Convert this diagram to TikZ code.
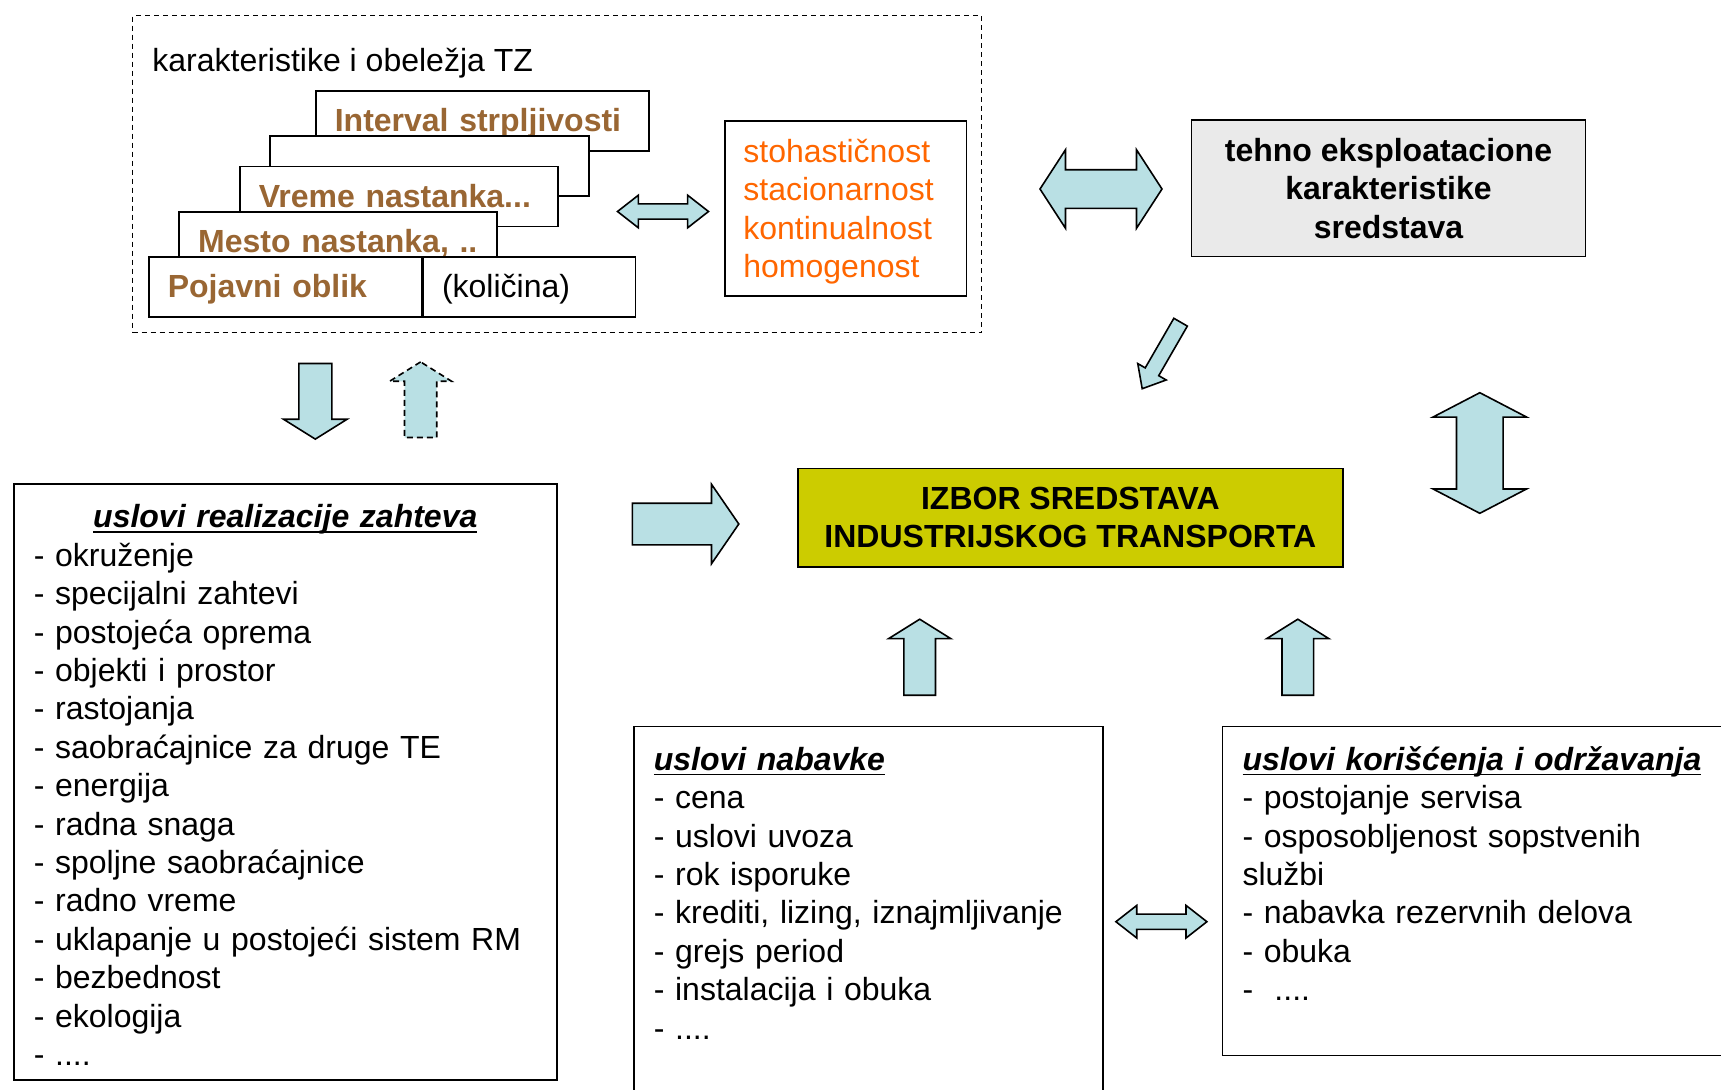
\documentclass[tikz,border=0pt]{standalone}
\usepackage{fontspec}
\setmainfont{Liberation Sans}
\usepackage{xcolor}
\usetikzlibrary{shapes.arrows}
\usetikzlibrary{positioning}

\definecolor{plavaStr}{RGB}{185,224,228}
\definecolor{sivaKut}{RGB}{234,234,234}
\definecolor{zutaKut}{RGB}{204,204,0}
\definecolor{smedja}{RGB}{153,102,51}
\definecolor{narandz}{RGB}{255,102,0}
\newsavebox{\naslovKutija}
\newcommand{\naslov}[1]{\sbox{\naslovKutija}{\bfseries\itshape #1}\rlap{\rule[-2.4pt]{\wd\naslovKutija}{0.8pt}}\usebox{\naslovKutija}}
\AtBeginDocument{\fontsize{16}{19.2}\selectfont}

\begin{document}
\begin{tikzpicture}[x=0.5pt, y=-0.5pt]
      \tikzset{
         okvir/.style = {
            draw, line width=0.8pt,
            inner sep=10pt, text height=12pt,
            align=left, anchor=north west
         },
         kartica/.style = {
            draw, fill=white, line width=0.8pt,
            minimum height=30pt, inner xsep=9.5pt, inner ysep=0pt,
            text height=12pt, text depth=1.2pt,
            align=left, anchor=north west
         },
         strelica1/.style = {
            single arrow, draw, fill=plavaStr,
            line width=0.8pt, inner xsep=0pt, anchor=tail
         },
         strelica2/.style = {
            double arrow, draw, fill=plavaStr,
            line width=0.8pt, inner xsep=0pt
         },
         malaStrelica/.style = {
            strelica2, minimum height=45.5pt, minimum width=15.5pt,
            inner ysep=3.4pt, double arrow head extend=4.35pt,
            double arrow tip angle=76
         },
         strelicaGore/.style = {
            strelica1, rotate=90, minimum height=38pt, minimum width=30.3pt,
            inner ysep=7.5pt, single arrow head extend=7.65pt,
            single arrow tip angle=116
         }
      }
      \useasboundingbox (0,0) rectangle (1721,1089);
      \clip (0,0) rectangle (1721,1089);
      % karakteristike TZ
      \node[draw, dash pattern=on 2.5pt off 2pt, line width=0.7pt, inner sep=0pt,
            minimum width=424.5pt, minimum height=158.5pt, anchor=north west] (tzOkvir) at (132,15) {} ;
      \node[anchor=base west, inner sep=0pt] (tzNaslov) at (152,71) {karakteristike i obeležja TZ} ;
      \node[kartica, text width=147.5pt, text=smedja, font=\bfseries] (intervalStrp) at (315,90) {Interval strpljivosti} ;
      \node[kartica, text width=140.5pt] (praznaKartica) at (269,135) {} ;
      \node[kartica, text width=140pt, text=smedja, font=\bfseries] (vremeNast) at (239,165.7) {Vreme nastanka...} ;
      \node[kartica, text width=140pt, text=smedja, font=\bfseries] (mestoNast) at (178.4,211) {Mesto nastanka,~..} ;
      \node[kartica, text width=117.3pt, text=smedja, font=\bfseries] (pojavniOblik) at (148,256) {Pojavni oblik} ;
      \node[kartica, text width=87.2pt, right=0pt of pojavniOblik] (kolicina) {(količina)} ;
      \node[okvir, inner xsep=9.3pt, inner ysep=8.85pt, text width=102.15pt, text depth=57.8pt, text=narandz] (osobine) at (724,120) {
        stohastičnost\\stacionarnost\\kontinualnost\\homogenost
      } ;
      \node[malaStrelica] (dvoStrTZ) at (663,211.5) {} ;
      % tehno eksploatacione karakteristike
      \node[draw, line width=0.8pt, fill=sivaKut, minimum width=197pt, minimum height=68.3pt,
            align=center, font=\bfseries] (tehnoKar) at (1388.5,188.3) {tehno eksploatacione\\karakteristike\\sredstava} ;
      \node[strelica2, minimum height=61pt, minimum width=38.5pt, inner ysep=9.25pt,
            double arrow head extend=10pt, double arrow tip angle=114] (dvoStrTehno) at (1101,189) {} ;
      \node[strelica1, rotate=240, minimum height=38.4pt, minimum width=15.65pt, inner ysep=3.5pt,
            single arrow head extend=4.3pt, single arrow tip angle=80] (kosaStr) at (1181,321.5) {} ;
      \node[strelica2, rotate=90, minimum height=60.3pt, minimum width=46pt, inner ysep=11.25pt,
            double arrow head extend=11.75pt, double arrow tip angle=125] (vertStr) at (1479.8,453) {} ;
      % izbor sredstava
      \node[draw, line width=0.8pt, fill=zutaKut, minimum width=272.6pt, minimum height=49.2pt,
            align=center, font=\bfseries] (izborSred) at (1070.4,517.5) {IZBOR SREDSTAVA\\INDUSTRIJSKOG TRANSPORTA} ;
      \node[strelica1, minimum height=53.25pt, minimum width=39pt, inner ysep=10pt,
            single arrow head extend=9.5pt, single arrow tip angle=111] (strDesno) at (631.5,524) {} ;
      \node[strelica1, rotate=-90, minimum height=37.8pt, minimum width=31pt, inner ysep=7.85pt,
            single arrow head extend=7.65pt, single arrow tip angle=116] (strDole) at (315.3,362.7) {} ;
      \node[strelica1, dash pattern=on 3pt off 2pt, rotate=90, minimum height=37.8pt, minimum width=30.2pt,
            inner ysep=7.65pt, single arrow head extend=7.45pt, single arrow tip angle=116] (strGore) at (420.6,438.3) {} ;
      \node[strelicaGore] (strNabavka) at (919.7,696) {} ;
      \node[strelicaGore] (strKoriscenje) at (1297.8,696) {} ;
      % uslovi
      \node[okvir, text width=251.5pt, text depth=266pt] (uslRealiz) at (13,483) {
        {\centering\naslov{uslovi realizacije zahteva}\par}
        - okruženje\\
        - specijalni zahtevi\\
        - postojeća oprema\\
        - objekti i prostor\\
        - rastojanja\\
        - saobraćajnice za druge TE\\
        - energija\\
        - radna snaga\\
        - spoljne saobraćajnice\\
        - radno vreme\\
        - uklapanje u postojeći sistem RM\\
        - bezbednost\\
        - ekologija\\
        - ....
      } ;
      \node[okvir, text width=214.5pt, text depth=170pt] (uslNabavke) at (633,725.5) {
        \naslov{uslovi nabavke}\\
        - cena\\
        - uslovi uvoza\\
        - rok isporuke\\
        - krediti, lizing, iznajmljivanje\\
        - grejs period\\
        - instalacija i obuka\\
        - ....
      } ;
      \node[okvir, text width=260pt, text depth=132.5pt] (uslKoriscenja) at (1221.7,725.5) {
        \naslov{uslovi korišćenja i održavanja}\\
        - postojanje servisa\\
        - osposobljenost sopstvenih\\
        službi\\
        - nabavka rezervnih delova\\
        - obuka\\
        -~~....
      } ;
      \node[malaStrelica] (dvoStrUslovi) at (1161.4,921.7) {} ;
\end{tikzpicture}
\end{document}
